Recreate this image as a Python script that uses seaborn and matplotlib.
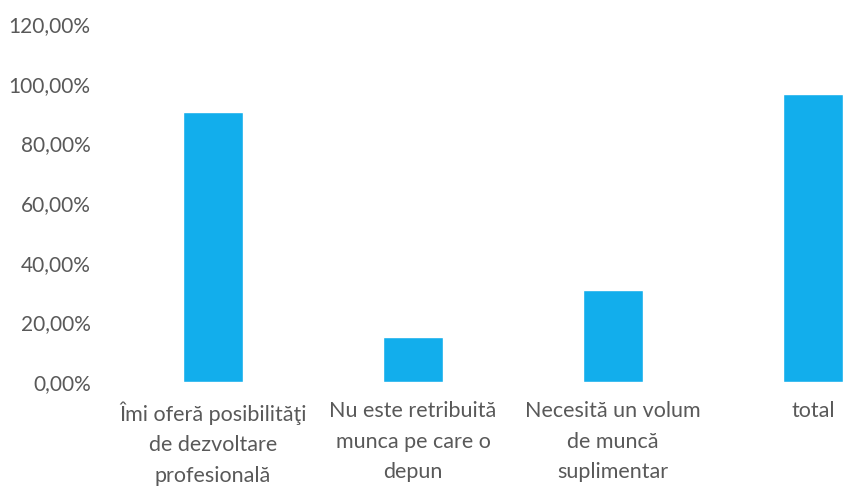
import matplotlib
matplotlib.use("Agg")
import matplotlib.pyplot as plt
import pandas as pd
import seaborn as sns
from matplotlib.ticker import FuncFormatter, MultipleLocator

# data
categories = [
    "Îmi oferă posibilităţi\nde dezvoltare\nprofesională",
    "Nu este retribuită\nmunca pe care o\ndepun",
    "Necesită un volum\nde muncă\nsuplimentar",
    "total",
]
values = [0.905, 0.15, 0.31, 0.965]

df = pd.DataFrame({"categorie": categories, "procent": values})

sns.set_theme(style="white")
plt.rcParams["font.family"] = ["Lato", "DejaVu Sans"]

fig = plt.figure(figsize=(8.45, 4.88), dpi=100)
ax = fig.add_axes([0.1337, 0.2172, 0.8663, 0.7336])

sns.barplot(data=df, x="categorie", y="procent", color="#12AEEC",
            width=0.3, saturation=1, ax=ax)

ax.set_ylim(0, 1.2)
ax.set_xlim(-0.5, 3.16)
ax.yaxis.set_major_locator(MultipleLocator(0.2))
ax.yaxis.set_major_formatter(FuncFormatter(lambda v, p: f"{v * 100:.2f}%".replace(".", ",")))

ax.set_xlabel("")
ax.set_ylabel("")
sns.despine(ax=ax, left=True, bottom=True)
ax.tick_params(axis="y", length=0, pad=16, labelsize=15, labelcolor="#595959")
ax.tick_params(axis="x", length=0, pad=14, labelsize=15.5, labelcolor="#595959")
for lbl in ax.get_xticklabels():
    lbl.set_linespacing(1.65)

fig.savefig("out.png", dpi=100)
